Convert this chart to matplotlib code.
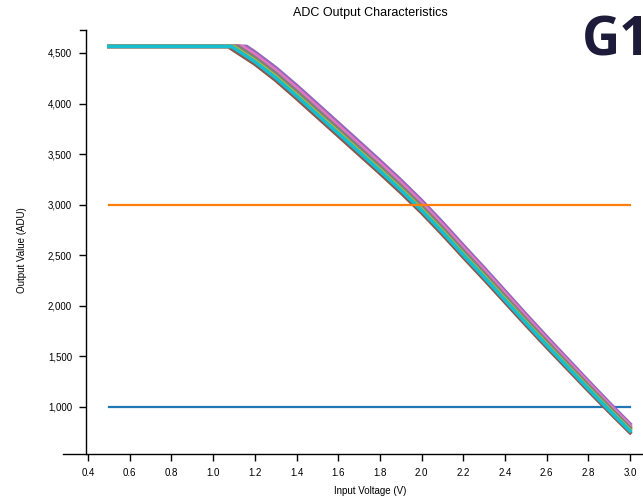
import numpy as np
import matplotlib
matplotlib.use("Agg")
import matplotlib.pyplot as plt
from matplotlib.ticker import FuncFormatter

# ---------- data ----------
flat_level = 4565          # saturated output (ADU)
line_start = 0.5           # every trace starts at 0.5 V
ref_levels = [1000, 3000]  # horizontal reference lines
ref_colors = ["#1f77b4", "#ff7f0e"]

# voltages along the falling part of the curves
slope_v = [1.2, 1.3, 1.4, 1.5, 1.6, 1.7, 1.8, 1.9, 2.0, 2.1,
           2.2, 2.3, 2.4, 2.5, 2.6, 2.7, 2.8, 2.9, 3.0]

# one trace per colour: knee voltage + values at slope_v
colors = ["#2ca02c", "#d62728", "#9467bd", "#8c564b", "#e377c2", "#7f7f7f", "#bcbd22", "#17becf"]
knee_v = [1.11, 1.13, 1.16, 1.07, 1.14, 1.12, 1.097, 1.088]
green = [4444, 4286, 4109, 3924, 3738, 3553, 3367, 3176, 2975, 2759, 2533, 2312, 2085, 1859, 1637, 1420, 1203, 991, 784]
red = [4468, 4311, 4135, 3950, 3764, 3578, 3392, 3201, 2999, 2783, 2557, 2335, 2108, 1880, 1658, 1440, 1222, 1009, 802]
purple = [4510, 4355, 4180, 3995, 3809, 3623, 3436, 3244, 3042, 2825, 2598, 2375, 2147, 1918, 1694, 1475, 1256, 1041, 832]
brown = [4390, 4230, 4050, 3865, 3680, 3495, 3310, 3120, 2920, 2705, 2480, 2260, 2035, 1810, 1590, 1375, 1160, 950, 745]
pink = [4486, 4330, 4154, 3969, 3783, 3597, 3411, 3219, 3018, 2801, 2574, 2352, 2125, 1896, 1673, 1455, 1237, 1023, 815]
gray = [4456, 4299, 4122, 3937, 3751, 3565, 3379, 3188, 2987, 2771, 2545, 2323, 2097, 1869, 1647, 1430, 1213, 1000, 793]
olive = [4426, 4268, 4089, 3904, 3719, 3533, 3348, 3157, 2957, 2741, 2515, 2295, 2069, 1842, 1621, 1405, 1189, 977, 771]
cyan = [4414, 4255, 4076, 3891, 3706, 3521, 3335, 3145, 2944, 2729, 2504, 2283, 2057, 1832, 1611, 1395, 1179, 968, 762]
traces = [green, red, purple, brown, pink, gray, olive, cyan]

xticks = [0.4, 0.6, 0.8, 1.0, 1.2, 1.4, 1.6, 1.8, 2.0, 2.2, 2.4, 2.6, 2.8, 3.0]
yticks = [1000, 1500, 2000, 2500, 3000, 3500, 4000, 4500]

plt.rcParams['font.family'] = ['Liberation Sans', 'DejaVu Sans']

fig = plt.figure(figsize=(6.43, 5.0), dpi=100)
ax = fig.add_axes([63 / 643, 46 / 500, 580 / 643, 424 / 500])
ax.set_xlim(0.28, 3.062)
ax.set_ylim(535, 4727)

# reference lines + traces
ax.plot([line_start, 3.0], [ref_levels[0]] * 2, color=ref_colors[0], lw=1.6, zorder=1)
for vals, k, c in zip(traces, knee_v, colors):
    xs = [line_start, k] + slope_v
    ys = [flat_level, flat_level] + vals
    ax.plot(xs, ys, color=c, lw=2.6, solid_joinstyle="round", zorder=2)
ax.plot([line_start, 3.0], [ref_levels[1]] * 2, color=ref_colors[1], lw=1.6, zorder=3)

# d3-ish axes
for s in ["top", "right"]:
    ax.spines[s].set_visible(False)
ax.spines["left"].set_position(("data", 0.39))
ax.spines["left"].set_bounds(535, 4727)
ax.spines["bottom"].set_linewidth(1.0)
ax.spines["left"].set_linewidth(1.0)
ax.set_xticks(xticks)
ax.set_yticks(yticks)
ax.xaxis.set_major_formatter(FuncFormatter(lambda v, p: f"{v:.1f}"))
ax.yaxis.set_major_formatter(FuncFormatter(lambda v, p: f"{int(v):,}"))
ax.tick_params(axis="both", direction="out", length=5, width=1, labelsize=7, colors="black", pad=5)

# top end-tick of the y domain path
ax.plot([0.36, 0.39], [4727, 4727], color="black", lw=1, clip_on=False)

fig.text(370 / 643, 1 - 13 / 500, "ADC Output Characteristics", ha="center", va="center", fontsize=9)
fig.text(370 / 643, 1 - 491 / 500, "Input Voltage (V)", ha="center", va="center", fontsize=7)
fig.text(22 / 643, 1 - 250 / 500, "Output Value (ADU)", ha="center", va="center", fontsize=7, rotation=90)
# the reference crops this label at the right edge
fig.text(582 / 643, 1 - 41 / 500, "G1", ha="left", va="center", fontsize=38,
         fontweight="bold", color="#1e1b3a", family=["Open Sans", "DejaVu Sans"])

fig.savefig("out.png", dpi=100)
